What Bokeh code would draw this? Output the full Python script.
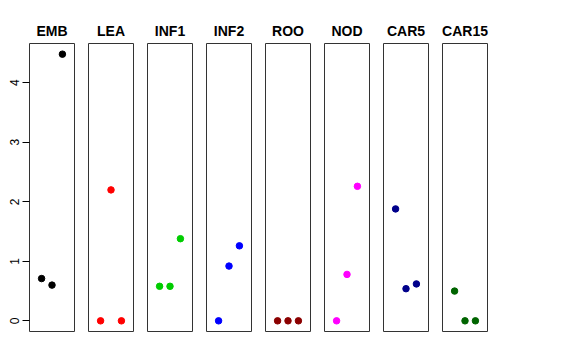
from bokeh.plotting import figure
from bokeh.layouts import row
from bokeh.models import Range1d, FixedTicker, ColumnDataSource
from bokeh.embed import file_html
from bokeh.resources import INLINE

tissues = ["EMB", "LEA", "INF1", "INF2", "ROO", "NOD", "CAR5", "CAR15"]
replicate = [1, 2, 3]
emb = [0.71, 0.60, 4.48]
lea = [0.0, 2.20, 0.0]
inf1 = [0.58, 0.58, 1.38]
inf2 = [0.0, 0.92, 1.26]
roo = [0.0, 0.0, 0.0]
nod = [0.0, 0.78, 2.26]
car5 = [1.88, 0.54, 0.62]
car15 = [0.50, 0.0, 0.0]
series = [emb, lea, inf1, inf2, roo, nod, car5, car15]
colors = ["#000000", "#FF0000", "#00CD00", "#0000FF", "#8B0000", "#FF00FF", "#00008B", "#006400"]
y_ticks = [0, 1, 2, 3, 4]

ymax = max(max(s) for s in series)
ymin = 0.0
ypad = 0.04 * (ymax - ymin)
xpad = 0.04 * 4

FONT = "Liberation Sans"
figs = []
for i, (name, vals, col) in enumerate(zip(tissues, series, colors)):
    first = i == 0
    p = figure(
        output_backend="svg", toolbar_location=None,
        frame_width=45, frame_height=288,
        x_range=Range1d(0 - xpad, 4 + xpad),
        y_range=Range1d(ymin - ypad, ymax + ypad),
        x_axis_location=None,
        y_axis_location="left" if first else None,
        min_border_left=29 if first else 7, min_border_right=7,
        min_border_top=43, min_border_bottom=21,
        title=name,
    )
    p.title.align = "center"
    p.title.text_font = FONT
    p.title.text_font_size = "14px"
    p.title.text_font_style = "bold"
    p.title.text_color = "black"
    p.title.standoff = 10
    p.outline_line_color = "#333333"
    p.outline_line_width = 1
    p.outline_line_alpha = 1.0
    p.background_fill_color = "white"
    p.border_fill_color = "white"
    if first:
        ax = p.yaxis[0]
        ax.ticker = FixedTicker(ticks=y_ticks)
        ax.axis_line_color = None
        ax.major_tick_in = 0
        ax.major_tick_out = 7
        ax.major_tick_line_color = "black"
        ax.minor_tick_line_color = None
        ax.major_label_orientation = "vertical"
        ax.major_label_text_font = FONT
        ax.major_label_text_font_size = "12px"
        ax.major_label_text_color = "black"
        ax.major_label_standoff = 3
    p.grid.visible = False
    src = ColumnDataSource(dict(x=replicate, y=vals))
    p.scatter("x", "y", source=src, size=6.5, fill_color=col, line_color=col)
    figs.append(p)

layout = row(*figs, spacing=0)
open("out.html", "w").write(file_html(layout, INLINE))
